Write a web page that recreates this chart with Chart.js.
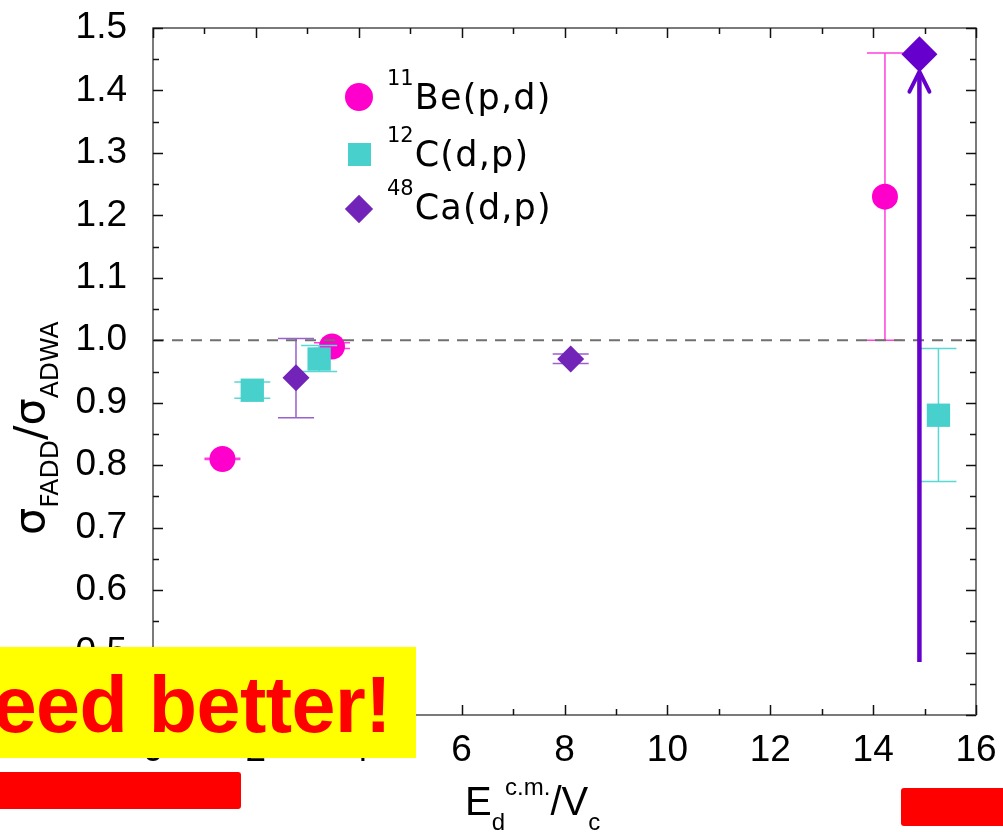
<!DOCTYPE html>
<html>
<head>
<meta charset="utf-8">
<script src="https://cdn.jsdelivr.net/npm/chart.js@4"></script>
<style>
  html, body { margin: 0; padding: 0; background: #fff; }
  #wrap { position: relative; width: 1003px; height: 832px; overflow: hidden;
          font-family: "Liberation Sans", Arial, sans-serif; color: #000; }
  #c { position: absolute; left: 0; top: 0; }
  .t { position: absolute; white-space: nowrap; line-height: 1; }
  .leg { font-family: "DejaVu Sans", sans-serif; font-size: 35px; letter-spacing: 1.2px; }
  .leg .sup { font-size: 21px; position: relative; top: -24px; letter-spacing: 0; margin-right: 1px; }
  .mk { position: absolute; }
  #xtitle { left: 465px; top: 781px; font-size: 40px; }
  #xtitle .sb { font-size: 24px; position: relative; top: 15px; }
  #xtitle .sp { font-size: 24px; position: relative; top: -20px; }
  #ytitle { left: 7.5px; top: 535px; font-family: "DejaVu Sans", sans-serif; font-size: 43px;
            transform: rotate(-90deg); transform-origin: 0 0; }
  #ytitle .sb { font-size: 25px; position: relative; top: 14px; }
  #banner { position: absolute; left: 0; top: 647px; width: 416px; height: 111px;
            background: #ffff00; overflow: hidden; }
  #banner span { position: absolute; right: 25px; top: 18px; font-size: 79px; font-weight: bold;
                 color: #ff0000; line-height: 1; white-space: nowrap; letter-spacing: -0.5px; }
  .bar { position: absolute; background: #ff0000; border-radius: 3px; }
</style>
</head>
<body>
<div id="wrap">
  <canvas id="c" width="1003" height="832"></canvas>

  <div class="mk" style="left:345px;top:83px;width:28px;height:28px;border-radius:50%;background:#ff00cc;"></div>
  <div class="t leg" style="left:387px;top:80.4px;"><span class="sup">11</span>Be(p,d)</div>

  <div class="mk" style="left:347.5px;top:142.5px;width:23px;height:23px;background:#48d1cc;"></div>
  <div class="t leg" style="left:387px;top:136.9px;"><span class="sup">12</span>C(d,p)</div>

  <div class="mk" style="left:349px;top:199px;width:20px;height:20px;background:#7223b8;transform:rotate(45deg);"></div>
  <div class="t leg" style="left:387px;top:190.4px;"><span class="sup">48</span>Ca(d,p)</div>

  <div id="ytitle" class="t">σ<span class="sb">FADD</span>/σ<span class="sb">ADWA</span></div>
  <div id="xtitle" class="t">E<span class="sb">d</span><span class="sp">c.m.</span>/V<span class="sb">c</span></div>

  <div id="banner"><span>eed better!</span></div>
  <div class="bar" style="left:-4px;top:772px;width:245px;height:37px;"></div>
  <div class="bar" style="left:901px;top:788px;width:110px;height:38px;"></div>
</div>

<script>
// Axis ticks
const xTicks = [0, 2, 4, 6, 8, 10, 12, 14, 16];
const yTicks = [0.4, 0.5, 0.6, 0.7, 0.8, 0.9, 1.0, 1.1, 1.2, 1.3, 1.4, 1.5];

// 11Be(p,d)
const beX  = [1.35, 3.48, 14.23];
const beY  = [0.81, 0.99, 1.23];
const beLo = [0.809, 0.987, 1.0];
const beHi = [0.811, 0.996, 1.46];

// 12C(d,p)
const cX  = [1.93, 3.23, 15.27];
const cY  = [0.92, 0.97, 0.88];
const cLo = [0.907, 0.95, 0.774];
const cHi = [0.933, 0.9915, 0.987];

// 48Ca(d,p)
const caX  = [2.78, 8.12];
const caY  = [0.94, 0.97];
const caLo = [0.876, 0.963];
const caHi = [1.003, 0.978];

// 48Ca(d,p) lower limit, marked by an upward arrow
const limX = [14.9];
const limY = [1.458];
const arrowX = 14.9;
const arrowFrom = 0.485;
const arrowTo = 1.43;

// Reference ratio line
const unityY = 1.0;

const BE = '#ff00cc', C12 = '#48d1cc', CA = '#7223b8', LIM = '#6600cc';

function pts(xs, ys) { return xs.map((x, i) => ({ x: x, y: ys[i] })); }

function midpoints(arr) {
  const out = [];
  for (let i = 0; i < arr.length - 1; i++) out.push((arr[i] + arr[i + 1]) / 2);
  return out;
}

const decor = {
  id: 'decor',
  beforeDatasetDraw(chart, args) {
    const ds = chart.data.datasets[args.index];
    if (!ds.err) return;
    const ctx = chart.ctx, xs = chart.scales.x, ys = chart.scales.y;
    ctx.save();
    ctx.strokeStyle = ds.err.color;
    ctx.lineWidth = 1.5;
    ds.data.forEach((p, i) => {
      const px = xs.getPixelForValue(p.x);
      const lo = ys.getPixelForValue(ds.err.lo[i]);
      const hi = ys.getPixelForValue(ds.err.hi[i]);
      ctx.beginPath();
      ctx.moveTo(px, lo); ctx.lineTo(px, hi);
      ctx.moveTo(px - 18, lo); ctx.lineTo(px + 18, lo);
      ctx.moveTo(px - 18, hi); ctx.lineTo(px + 18, hi);
      ctx.stroke();
    });
    ctx.restore();
  },
  afterDatasetsDraw(chart) {
    const ctx = chart.ctx, a = chart.chartArea, xs = chart.scales.x, ys = chart.scales.y;
    ctx.save();

    // dashed unity line
    const uy = ys.getPixelForValue(unityY);
    ctx.strokeStyle = '#707070';
    ctx.lineWidth = 2;
    ctx.setLineDash([11, 8]);
    ctx.beginPath();
    ctx.moveTo(a.left, uy); ctx.lineTo(a.right, uy);
    ctx.stroke();
    ctx.setLineDash([]);

    // lower-limit arrow
    const ax = xs.getPixelForValue(arrowX);
    const ay0 = ys.getPixelForValue(arrowFrom);
    const ay1 = ys.getPixelForValue(arrowTo);
    ctx.strokeStyle = LIM;
    ctx.lineWidth = 4.5;
    ctx.lineCap = 'butt';
    ctx.beginPath();
    ctx.moveTo(ax, ay0); ctx.lineTo(ax, ay1 + 2);
    ctx.stroke();
    ctx.lineCap = 'round';
    ctx.lineJoin = 'round';
    ctx.lineWidth = 4;
    ctx.beginPath();
    ctx.moveTo(ax - 10, ay1 + 20); ctx.lineTo(ax, ay1); ctx.lineTo(ax + 10, ay1 + 20);
    ctx.stroke();

    // frame
    ctx.lineCap = 'butt';
    ctx.strokeStyle = '#7a7a7a';
    ctx.lineWidth = 2;
    ctx.strokeRect(a.left, a.top, a.right - a.left, a.bottom - a.top);

    // inward tick marks on all four sides
    ctx.strokeStyle = '#111';
    ctx.lineWidth = 1.5;
    ctx.beginPath();
    const xt = [[xTicks, 10], [midpoints(xTicks), 6]];
    xt.forEach(([vals, len]) => vals.forEach(v => {
      const px = Math.round(xs.getPixelForValue(v)) + 0.5;
      ctx.moveTo(px, a.bottom); ctx.lineTo(px, a.bottom - len);
      ctx.moveTo(px, a.top); ctx.lineTo(px, a.top + len);
    }));
    const yt = [[yTicks, 10], [midpoints(yTicks), 6]];
    yt.forEach(([vals, len]) => vals.forEach(v => {
      const py = Math.round(ys.getPixelForValue(v)) + 0.5;
      ctx.moveTo(a.left, py); ctx.lineTo(a.left + len, py);
      ctx.moveTo(a.right, py); ctx.lineTo(a.right - len, py);
    }));
    ctx.stroke();
    ctx.restore();
  }
};

const tickFont = { family: '"Liberation Sans", Arial, sans-serif', size: 37 };

new Chart(document.getElementById('c'), {
  type: 'scatter',
  data: {
    datasets: [
      { label: '11Be(p,d)', data: pts(beX, beY), pointStyle: 'circle', pointRadius: 13,
        backgroundColor: BE, borderWidth: 0, order: 3,
        err: { lo: beLo, hi: beHi, color: '#ff40dd' } },
      { label: '12C(d,p)', data: pts(cX, cY), pointStyle: 'rect', pointRadius: 16.5,
        backgroundColor: C12, borderWidth: 0, order: 2,
        err: { lo: cLo, hi: cHi, color: '#5ad8d4' } },
      { label: '48Ca(d,p)', data: pts(caX, caY), pointStyle: 'rectRot', pointRadius: 13.5,
        backgroundColor: CA, borderWidth: 0, order: 1,
        err: { lo: caLo, hi: caHi, color: '#9a5fd0' } },
      { label: '48Ca(d,p) limit', data: pts(limX, limY), pointStyle: 'rectRot', pointRadius: 18,
        backgroundColor: LIM, borderWidth: 0, order: 0 }
    ]
  },
  options: {
    responsive: false,
    animation: false,
    devicePixelRatio: 1,
    layout: { padding: { top: 28, right: 27, left: 0, bottom: 0 } },
    plugins: { legend: { display: false }, tooltip: { enabled: false } },
    elements: { point: { hoverRadius: 0 } },
    scales: {
      x: {
        type: 'linear', min: 0, max: 16,
        afterBuildTicks: s => { s.ticks = xTicks.map(v => ({ value: v })); },
        afterFit: s => { s.height = 117; s.paddingLeft = 0; s.paddingRight = 0; },
        grid: { display: false, drawTicks: false },
        border: { display: false },
        ticks: { padding: 14, color: '#000', font: tickFont, maxRotation: 0, autoSkip: false,
                 callback: v => String(v) }
      },
      y: {
        type: 'linear', min: 0.4, max: 1.5,
        afterBuildTicks: s => { s.ticks = yTicks.map(v => ({ value: v })); },
        afterFit: s => { s.width = 153; s.paddingTop = 0; s.paddingBottom = 0; },
        grid: { display: false, drawTicks: false },
        border: { display: false },
        ticks: { padding: 26, color: '#000', font: tickFont, autoSkip: false,
                 callback: v => v.toFixed(1) }
      }
    }
  },
  plugins: [decor]
});
</script>
</body>
</html>
